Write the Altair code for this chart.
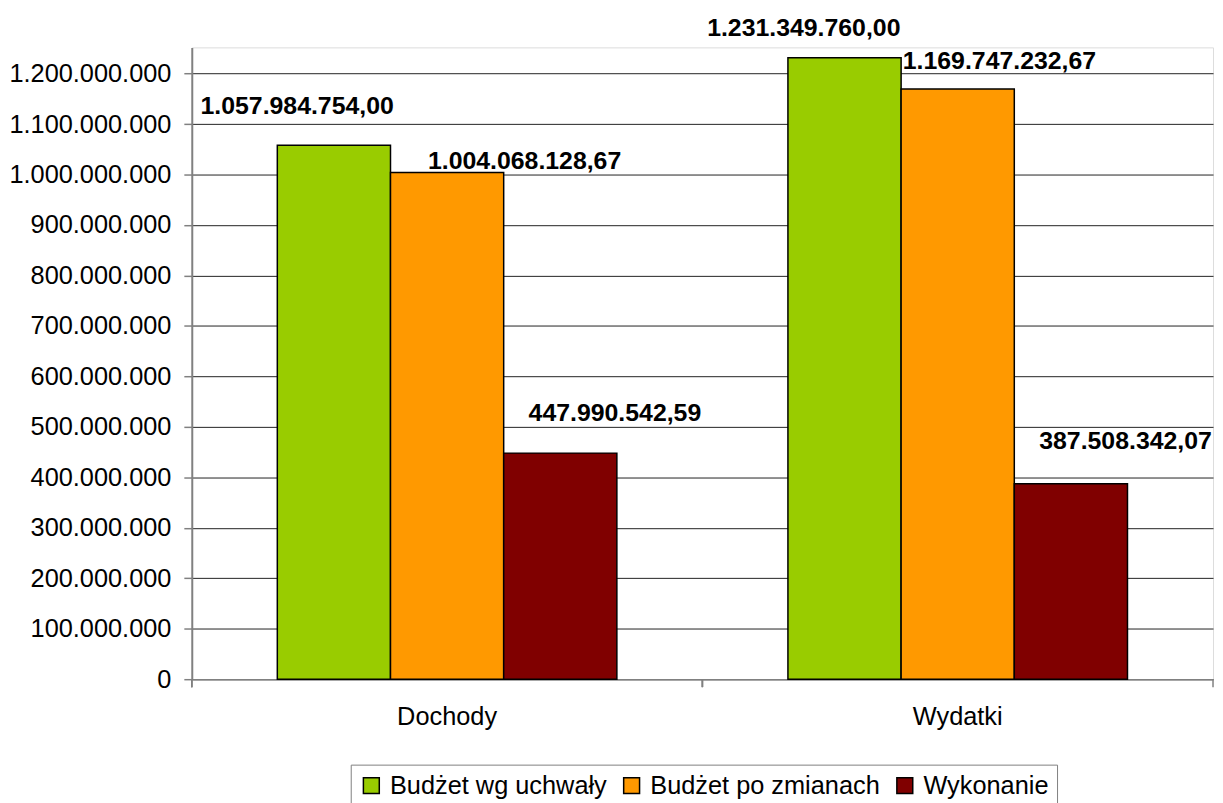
import altair as alt
import pandas as pd

categories = ["Dochody", "Wydatki"]
series = ["Budżet wg uchwały", "Budżet po zmianach", "Wykonanie"]
colors = ["#99CC00", "#FF9900", "#800000"]
values_dochody = [1057984754.00, 1004068128.67, 447990542.59]
values_wydatki = [1231349760.00, 1169747232.67, 387508342.07]
y_ticks = [i * 100000000 for i in range(13)]

# label offsets (dx, dy) relative to top centre of each bar, as placed in the original
label_offsets = {
    ("Dochody", "Budżet wg uchwały"): (-37, -40),
    ("Dochody", "Budżet po zmianach"): (78, -12),
    ("Dochody", "Wykonanie"): (55, -40),
    ("Wydatki", "Budżet wg uchwały"): (-41, -30),
    ("Wydatki", "Budżet po zmianach"): (42, -28),
    ("Wydatki", "Wykonanie"): (55, -43),
}


def pl_format(v):
    s = f"{v:,.2f}"
    return s.replace(",", " ").replace(".", ",").replace(" ", ".")


rows = []
for cat, vals in zip(categories, [values_dochody, values_wydatki]):
    for s, v in zip(series, vals):
        rows.append({"cat": cat, "series": s, "value": v, "label": pl_format(v)})
df = pd.DataFrame(rows)

FONT = "Liberation Sans"
W, H = 1028, 636
P_INNER = 0.335
P_OUTER = P_INNER / 2
STEP = W / (len(categories) - P_INNER + 2 * P_OUTER)
HALF_GAP = STEP * P_INNER / 2

x_enc = alt.X(
    "cat:N",
    sort=categories,
    scale=alt.Scale(paddingInner=P_INNER, paddingOuter=P_OUTER),
    axis=alt.Axis(
        title=None,
        ticks=False,
        labelFont=FONT,
        labelFontSize=25.5,
        labelColor="black",
        labelAngle=0,
        labelBaseline="alphabetic",
        labelPadding=46,
        domainColor="#808080",
        domainWidth=1.5,
        grid=False,
    ),
)
xo_enc = alt.XOffset(
    "series:N", sort=series, scale=alt.Scale(paddingInner=0, paddingOuter=0)
)
y_enc = alt.Y(
    "value:Q",
    scale=alt.Scale(domain=[0, 1252000000], nice=False, zero=True),
    axis=alt.Axis(
        title=None,
        values=y_ticks,
        labelExpr="replace(format(datum.value, ','), /,/g, '.')",
        labelFont=FONT,
        labelFontSize=25.5,
        labelColor="black",
        labelPadding=13,
        tickSize=8,
        tickColor="#808080",
        tickWidth=1.5,
        domainColor="#808080",
        domainWidth=2,
        grid=True,
        gridColor="#222222",
        gridWidth=1,
    ),
)

base = alt.Chart(df)

bars = base.mark_bar(stroke="black", strokeWidth=1.5).encode(
    x=x_enc,
    xOffset=xo_enc,
    y=y_enc,
    color=alt.Color(
        "series:N",
        sort=series,
        scale=alt.Scale(domain=series, range=colors),
        legend=alt.Legend(
            title=None,
            orient="none",
            legendX=160,
            legendY=722,
            direction="horizontal",
            symbolType="square",
            symbolSize=256,
            symbolStrokeColor="black",
            symbolStrokeWidth=1.5,
            labelFont=FONT,
            labelFontSize=25.5,
            labelColor="black",
            labelLimit=500,
            labelOffset=6,
            columnPadding=12,
            padding=8,
            strokeColor="#808080",
            fillColor="white",
        ),
    ),
)

layers = [bars]
for (cat, s), (dx, dy) in label_offsets.items():
    layers.append(
        base.transform_filter(
            (alt.datum.cat == cat) & (alt.datum.series == s)
        )
        .mark_text(
            font=FONT,
            fontSize=25,
            fontWeight="bold",
            color="black",
            align="center",
            baseline="middle",
            dx=dx,
            dy=dy,
        )
        .encode(x=x_enc, xOffset=xo_enc, y=y_enc, text="label:N")
    )

# category boundary ticks on the x axis
cat_ticks = base.mark_rule(
    color="#808080", strokeWidth=1.5, xOffset=-HALF_GAP
).encode(
    x=alt.X("cat:N", sort=categories, bandPosition=0),
    y=alt.value(H),
    y2=alt.value(H + 8),
)
end_tick = (
    alt.Chart(alt.Data(values=[{"a": 1}]))
    .mark_rule(color="#808080", strokeWidth=1.5)
    .encode(x=alt.value(W), y=alt.value(H), y2=alt.value(H + 8))
)
layers += [cat_ticks, end_tick]

chart = (
    alt.layer(*layers)
    .properties(
        width=W,
        height=H,
        autosize=alt.AutoSizeParams(type="none"),
        padding={"left": 185, "top": 37, "right": 2, "bottom": 125},
    )
    .configure_view(stroke=None)
    .configure(background="white")
)

chart.save("out.html", embed_options={"renderer": "svg", "actions": False})
